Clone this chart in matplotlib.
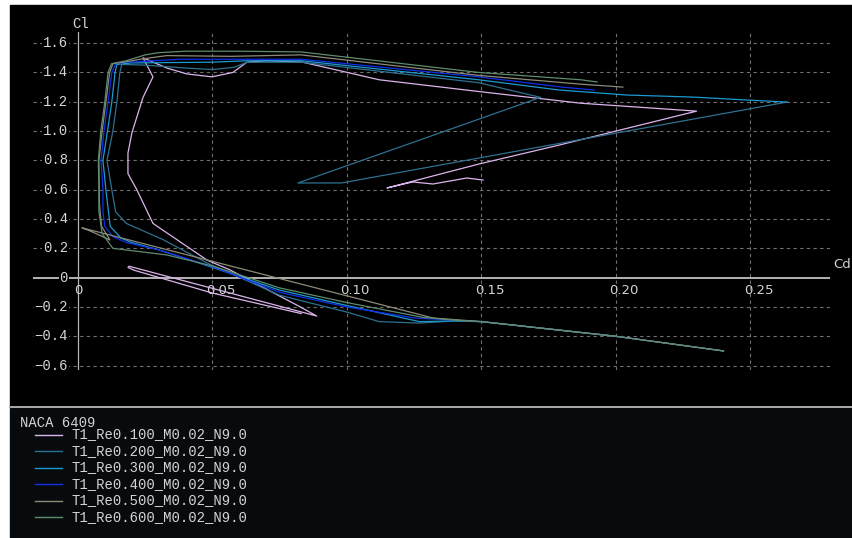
import matplotlib.pyplot as plt
from matplotlib.lines import Line2D
from matplotlib.patches import Rectangle

# ── Polar data (Cd, Cl) per Reynolds number ─────────────────────────────
cd_re100 = [0.083, 0.050, 0.021, 0.0186, 0.019, 0.0888, 0.0825, 0.0565, 0.048,
            0.0279, 0.0219, 0.0186, 0.0186, 0.0201, 0.0242, 0.0279, 0.0242,
            0.0331, 0.0405, 0.0498, 0.0576, 0.0628, 0.0703, 0.0836, 0.112,
            0.149, 0.187, 0.215, 0.230, 0.179, 0.149, 0.1149, 0.1245, 0.132,
            0.1446, 0.1506]
cl_re100 = [-0.245, -0.105, 0.05, 0.07, 0.078, -0.262, -0.198, 0.053, 0.12,
            0.37, 0.60, 0.71, 0.85, 0.99, 1.23, 1.37, 1.50,
            1.43, 1.39, 1.37, 1.40, 1.47, 1.48, 1.47, 1.35,
            1.27, 1.19, 1.155, 1.136, 0.905, 0.775, 0.612, 0.653, 0.639,
            0.68, 0.666]

cd_re200 = [0.200, 0.150, 0.140, 0.127, 0.112, 0.100, 0.075, 0.048, 0.0316,
            0.018, 0.014, 0.0126, 0.0108, 0.013, 0.0145, 0.0156, 0.0163,
            0.025, 0.040, 0.050, 0.058, 0.063, 0.083, 0.149, 0.172,
            0.0818, 0.098, 0.2636]
cl_re200 = [-0.40, -0.30, -0.295, -0.31, -0.30, -0.235, -0.12, 0.10, 0.26,
            0.37, 0.45, 0.60, 0.80, 1.00, 1.20, 1.40, 1.455,
            1.45, 1.43, 1.42, 1.435, 1.47, 1.47, 1.33, 1.23,
            0.646, 0.646, 1.198]

cd_re300 = [0.240, 0.200, 0.150, 0.140, 0.127, 0.100, 0.075, 0.050, 0.030,
            0.020, 0.016, 0.012, 0.0104, 0.0093, 0.011, 0.0126, 0.0138,
            0.0145, 0.020, 0.050, 0.063, 0.083, 0.149, 0.179, 0.204,
            0.2286, 0.2487, 0.2636]
cl_re300 = [-0.50, -0.40, -0.30, -0.295, -0.30, -0.19, -0.085, 0.07, 0.19,
            0.24, 0.27, 0.35, 0.60, 0.80, 1.00, 1.20, 1.40,
            1.455, 1.465, 1.47, 1.48, 1.48, 1.35, 1.28, 1.246,
            1.232, 1.212, 1.198]

cd_re400 = [0.240, 0.200, 0.150, 0.140, 0.125, 0.100, 0.075, 0.050, 0.030,
            0.018, 0.013, 0.010, 0.0093, 0.0093, 0.0086, 0.0097, 0.0112,
            0.0126, 0.014, 0.018, 0.038, 0.083, 0.149, 0.180, 0.192]
cl_re400 = [-0.50, -0.40, -0.30, -0.29, -0.275, -0.20, -0.10, 0.075, 0.19,
            0.24, 0.28, 0.35, 0.45, 0.60, 0.80, 1.00, 1.20,
            1.40, 1.46, 1.47, 1.49, 1.49, 1.37, 1.30, 1.28]

cd_re500 = [0.240, 0.200, 0.150, 0.132, 0.0015, 0.005, 0.0119, 0.0088, 0.008,
            0.0078, 0.009, 0.0104, 0.0118, 0.013, 0.017, 0.023, 0.033,
            0.057, 0.083, 0.149, 0.187, 0.2026]
cl_re500 = [-0.50, -0.40, -0.30, -0.275, 0.34, 0.315, 0.257, 0.35, 0.50,
            0.80, 1.00, 1.20, 1.40, 1.46, 1.47, 1.49, 1.515,
            1.51, 1.52, 1.38, 1.32, 1.30]

cd_re600 = [0.240, 0.200, 0.150, 0.140, 0.128, 0.100, 0.075, 0.050, 0.033,
            0.013, 0.009, 0.0078, 0.0078, 0.0076, 0.0085, 0.0100, 0.0112,
            0.0125, 0.018, 0.025, 0.030, 0.040, 0.060, 0.083, 0.149,
            0.187, 0.193]
cl_re600 = [-0.50, -0.40, -0.30, -0.29, -0.27, -0.17, -0.07, 0.08, 0.155,
            0.20, 0.30, 0.45, 0.60, 0.80, 1.00, 1.20, 1.40,
            1.46, 1.48, 1.52, 1.535, 1.545, 1.545, 1.54, 1.40,
            1.35, 1.335]

series_names = ["T1_Re0.100_M0.02_N9.0", "T1_Re0.200_M0.02_N9.0",
                "T1_Re0.300_M0.02_N9.0", "T1_Re0.400_M0.02_N9.0",
                "T1_Re0.500_M0.02_N9.0", "T1_Re0.600_M0.02_N9.0"]
series_colors = ["#dcb4ec", "#2e7090", "#1a9ad0", "#1030e8", "#8c8a78", "#5e8c6c"]
foil_name = "NACA 6409"

x_ticks = [0.05, 0.10, 0.15, 0.20, 0.25]
x_tick_labels = ["0.05", "0.10", "0.15", "0.20", "0.25"]
y_ticks = [-0.6, -0.4, -0.2, 0.2, 0.4, 0.6, 0.8, 1.0, 1.2, 1.4, 1.6]

# ── Figure in pixel units ──────────────────────────────────────────────
W, H = 853, 538
fig = plt.figure(figsize=(W / 100, H / 100), dpi=100, facecolor="white")


def fx(px):
    return px / W


def fy(py):
    return 1 - py / H


MONO = "Liberation Mono"
TXT = "#d4d4d4"

# graph panel and legend panel (kept behind the axes)
fig.patches.append(Rectangle((fx(10), fy(406)), fx(W - 10), 401 / H,
                             transform=fig.transFigure, color="black", zorder=-10))
fig.patches.append(Rectangle((fx(10), 0), fx(W - 10), fy(408),
                             transform=fig.transFigure, color="#070b0d", zorder=-10))
fig.lines.append(Line2D([fx(10), 1], [fy(407), fy(407)], transform=fig.transFigure,
                        color="#a8a8a8", lw=1.4, zorder=-5))

ax = fig.add_axes([fx(33), fy(370), fx(830 - 33), (370 - 32) / H])
ax.set_axis_off()
ax.set_xlim(-0.0167, 0.2796)
ax.set_ylim(-0.63, 1.676)

# dashed grid
for y in y_ticks:
    ax.axhline(y, color="#707070", lw=0.8, ls=(0, (3, 3)), zorder=1)
for x in x_ticks:
    ax.axvline(x, color="#707070", lw=0.8, ls=(0, (3, 3)), zorder=1)

# axes through the origin
ax.axhline(0, color="#b4b4b4", lw=1.4, zorder=2)
ax.axvline(0, color="#b4b4b4", lw=0.9, zorder=2)

# tick labels
for y in y_ticks + [0]:
    lbl = "0" if y == 0 else f"{y:.1f}".replace("-", "\u2212")
    ax.annotate(lbl, xy=(0, y), xytext=(-10, 0), textcoords="offset pixels",
                ha="right", va="center", color=TXT, family=MONO, fontsize=10,
                bbox=dict(fc="black", ec="none", pad=0.5), zorder=3)
ax.annotate("0", xy=(0, 0), xytext=(0, -13), textcoords="offset pixels",
            ha="center", va="center", color=TXT, fontsize=9.5, zorder=3)
for x, lbl in zip(x_ticks, x_tick_labels):
    ax.annotate(lbl, xy=(x, 0), xytext=(8, -13), textcoords="offset pixels",
                ha="center", va="center", color=TXT, fontsize=9.5, zorder=3)

fig.text(fx(81), fy(24), "Cl", color=TXT, family=MONO, fontsize=10,
         ha="center", va="center")
fig.text(fx(842), fy(264), "Cd", color=TXT, fontsize=9.5, ha="center", va="center")

# polars
polars = [(cd_re100, cl_re100), (cd_re200, cl_re200), (cd_re300, cl_re300),
          (cd_re400, cl_re400), (cd_re500, cl_re500), (cd_re600, cl_re600)]
for (cd, cl), color in zip(polars, series_colors):
    ax.plot(cd, cl, color=color, lw=0.9, zorder=4)

# legend block
fig.text(fx(20), fy(423), foil_name, color=TXT, family=MONO, fontsize=10,
         ha="left", va="center")
for i, (name, color) in enumerate(zip(series_names, series_colors)):
    yy = fy(434.5 + i * 16.5)
    fig.lines.append(Line2D([fx(35), fx(62)], [yy, yy], transform=fig.transFigure,
                            color=color, lw=1.0))
    fig.text(fx(72), yy, name, color=TXT, family=MONO, fontsize=10,
             ha="left", va="center")

fig.savefig("out.png", dpi=100, facecolor="white")
